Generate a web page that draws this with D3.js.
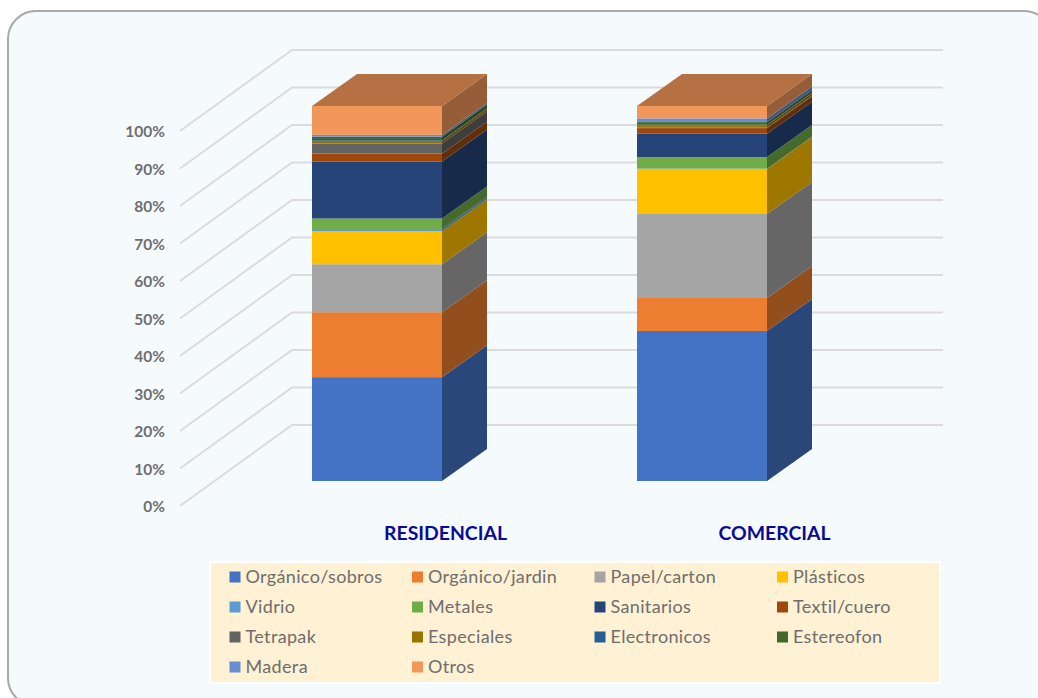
<!DOCTYPE html>
<html>
<head>
<meta charset="utf-8">
<script src="https://cdn.jsdelivr.net/npm/d3@7"></script>
<style>
  html, body { margin: 0; padding: 0; background: #fff; overflow: hidden; }
  svg { display: block; font-family: Lato, "Noto Sans", sans-serif; }
</style>
</head>
<body>
<svg id="chart" width="1038" height="698"></svg>
<script>
// Waste composition by source, as a share of total weight (%).
const categories = ["RESIDENCIAL", "COMERCIAL"];
const wasteTypes = ["Orgánico/sobros", "Orgánico/jardin", "Papel/carton", "Plásticos",
  "Vidrio", "Metales", "Sanitarios", "Textil/cuero",
  "Tetrapak", "Especiales", "Electronicos", "Estereofon",
  "Madera", "Otros"];
const residencial = [27.7, 17.3, 12.8, 8.8, 0.6, 2.8, 15.2, 2.1, 2.7, 0.7, 0.2, 0.9, 0.5, 7.7];
const comercial = [40.0, 8.8, 22.4, 12.0, 0.1, 3.1, 6.2, 1.5, 0.1, 0.7, 0.1, 0.7, 1.0, 3.3];
const palette = ["#4472C4", "#ED7D31", "#A5A5A5", "#FFC000", "#5B9BD5", "#70AD47", "#264478",
  "#9E480E", "#636363", "#997300", "#255E91", "#43682B", "#698ED0", "#F1975A"];
const yTicks = [0, 10, 20, 30, 40, 50, 60, 70, 80, 90, 100];

const svg = d3.select("#chart");

// Rounded chart panel; its right and bottom edges run off the page.
svg.append("rect")
  .attr("x", 8).attr("y", 11).attr("width", 1044).attr("height", 695).attr("rx", 28)
  .attr("fill", "#F5FAFD").attr("stroke", "#A9A9A9").attr("stroke-width", 2);

// Scales for the front plane of the columns.
const y = d3.scaleLinear().domain([0, 100]).range([481, 106]);
const x = d3.scaleBand().domain(categories).range([214.5, 864.5]).paddingInner(0.6).paddingOuter(0.3);
const labelX = d3.scalePoint().domain(categories).range([445.5, 774.5]);
const colour = d3.scaleOrdinal().domain(wasteTypes).range(palette);

// Oblique projection offsets.
const depth = { dx: 45, dy: -32 };
const floor = { frontX: 180, backX: 292, endX: 943, frontDy: 25, backDy: -56 };

// Floor and wall gridlines.
const gridLine = d3.line();
svg.append("g").selectAll("path").data(yTicks).join("path")
  .attr("fill", "none").attr("stroke", "#DBDBDB").attr("stroke-width", 2)
  .attr("d", t => gridLine([
    [floor.frontX, y(t) + floor.frontDy],
    [floor.backX, y(t) + floor.backDy],
    [floor.endX, y(t) + floor.backDy]
  ]));

// Value labels.
svg.append("g").selectAll("text").data(yTicks).join("text")
  .attr("x", 165).attr("y", t => y(t) + 25.5)
  .attr("dy", "0.36em").attr("text-anchor", "end")
  .attr("font-size", 15.5).attr("font-weight", 700).attr("fill", "#6E6E6E")
  .text(t => t + "%");

// Stack the two sources.
const rows = categories.map((c, i) => {
  const row = { category: c };
  wasteTypes.forEach((w, j) => { row[w] = (i === 0 ? residencial : comercial)[j]; });
  return row;
});
const series = d3.stack().keys(wasteTypes)(rows);

const shade = (c, k) => {
  const r = d3.rgb(c);
  return d3.rgb(r.r * k, r.g * k, r.b * k).formatHex();
};
const poly = pts => d3.line()(pts) + "Z";

const layers = svg.append("g").selectAll("g").data(series).join("g");

layers.each(function (s) {
  const g = d3.select(this);
  const c = colour(s.key);
  s.forEach(d => {
    const cat = d.data.category;
    const x0 = x(cat), x1 = x0 + x.bandwidth();
    const yb = y(d[0]), yt = y(d[1]);
    // front face
    g.append("rect")
      .attr("x", x0).attr("y", yt)
      .attr("width", x1 - x0).attr("height", yb - yt)
      .attr("fill", c);
    // side face
    g.append("path")
      .attr("fill", shade(c, 0.62))
      .attr("d", poly([[x1, yb], [x1 + depth.dx, yb + depth.dy], [x1 + depth.dx, yt + depth.dy], [x1, yt]]));
    // the top cap belongs to the last series only
    if (s.key === wasteTypes[wasteTypes.length - 1]) {
      g.append("path")
        .attr("fill", shade(c, 0.75))
        .attr("d", poly([[x0, yt], [x1, yt], [x1 + depth.dx, yt + depth.dy], [x0 + depth.dx, yt + depth.dy]]));
    }
  });
});

// Category names.
svg.append("g").selectAll("text").data(categories).join("text")
  .attr("x", c => labelX(c)).attr("y", 533)
  .attr("dy", "0.36em").attr("text-anchor", "middle")
  .attr("font-size", 19.4).attr("font-weight", 700).attr("fill", "#0A0A96")
  .text(c => c);

// Legend: four columns on a cream panel.
svg.append("rect")
  .attr("x", 210).attr("y", 562).attr("width", 730).attr("height", 121)
  .attr("fill", "#FFF1D3").attr("stroke", "#FFFFFF").attr("stroke-width", 2);

const legendCol = d3.scalePoint().domain([0, 1, 2, 3]).range([229.5, 777]);
const legendRow = d3.scalePoint().domain([0, 1, 2, 3]).range([577, 667]);
const legend = svg.append("g").selectAll("g").data(wasteTypes).join("g")
  .attr("transform", (w, i) => `translate(${legendCol(i % 4)},${legendRow(Math.floor(i / 4))})`);
legend.append("rect")
  .attr("x", 0).attr("y", -5.5).attr("width", 11).attr("height", 11)
  .attr("fill", w => colour(w));
legend.append("text")
  .attr("x", 16).attr("dy", "0.36em")
  .attr("font-size", 18).attr("letter-spacing", 0.35).attr("fill", "#6E6E6E")
  .text(w => w);
</script>
</body>
</html>
